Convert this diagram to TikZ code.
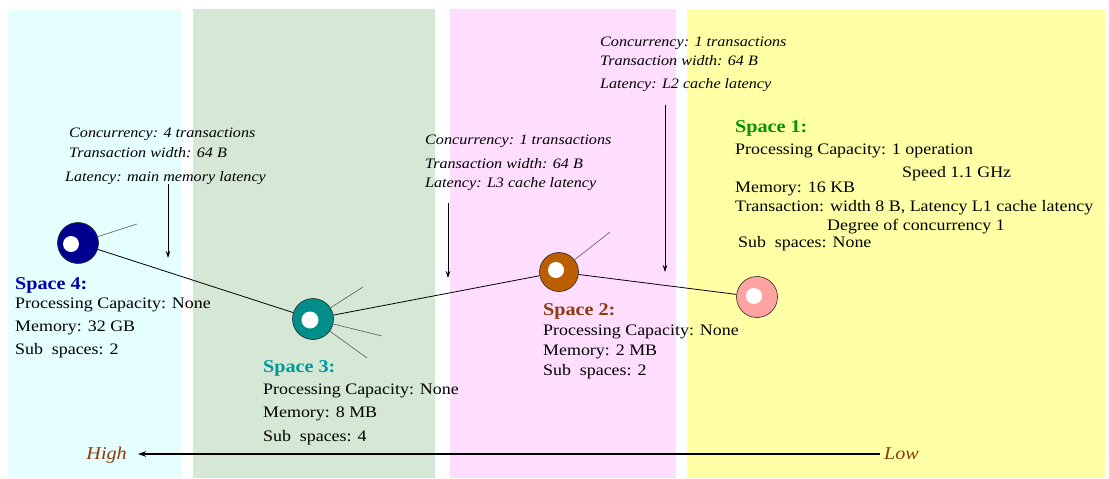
\documentclass[tikz,border=0pt]{standalone}
\usepackage{fontspec}
\setmainfont{Liberation Serif}[FakeStretch=1.12]
\usetikzlibrary{arrows.meta}
\definecolor{bandcyan}{HTML}{E5FFFF}
\definecolor{bandgreen}{HTML}{D5E8D5}
\definecolor{bandpink}{HTML}{FFDDFF}
\definecolor{bandyellow}{HTML}{FFFFA6}
\definecolor{navyball}{HTML}{000090}
\definecolor{tealball}{HTML}{008E8A}
\definecolor{brownball}{HTML}{BA5E00}
\definecolor{pinkball}{HTML}{FFA2A2}
\definecolor{ttlone}{HTML}{009400}
\definecolor{ttltwo}{HTML}{8B3A0E}
\definecolor{ttlthree}{HTML}{00999A}
\definecolor{ttlfour}{HTML}{0000B0}
\definecolor{hilo}{HTML}{8B3A0E}
\newcommand{\subsp}{Sub\hspace{0.55em}spaces}
\begin{document}
\begin{tikzpicture}[x=1pt,y=-1pt,
  txt/.style={anchor=base west, inner sep=0pt, font=\fontsize{16}{18}\selectfont},
  ann/.style={anchor=base west, inner sep=0pt, font=\fontsize{14.4}{16}\selectfont\itshape},
  ttl/.style={anchor=base west, inner sep=0pt, font=\fontsize{18}{20}\selectfont\bfseries},
  ball/.style={circle, draw=black!85, line width=0.6pt, minimum size=41pt, inner sep=0pt},
  hole/.style={circle, fill=white, minimum size=16pt, inner sep=0pt},
  link/.style={line width=0.8pt},
  spoke/.style={line width=0.6pt, black!65},
  down/.style={-{Stealth[length=7pt,width=4.5pt]}, line width=0.7pt}]
\useasboundingbox (0,0) rectangle (1109,479);
% bands
\fill[bandcyan] (8,9) rectangle (181,478);
\fill[bandgreen] (193,9) rectangle (435,478);
\fill[bandpink] (450,9) rectangle (676,478);
\fill[bandyellow] (687,9) rectangle (1105,478);

% balls
\node[ball, fill=navyball] (s4c) at (78,243) {};
\node[hole] (s4h) at (71,244) {};
\node[ball, fill=tealball] (s3c) at (313,319) {};
\node[hole, minimum size=17pt] (s3h) at (310,320) {};
\node[ball, fill=brownball, minimum size=39pt] (s2c) at (559,272) {};
\node[hole] (s2h) at (556,270) {};
\node[ball, fill=pinkball] (s1c) at (757,297) {};
\node[hole] (s1h) at (754,296) {};

% links
\draw[link] (s4c) -- (s3c);
\draw[link] (s3c) -- (s2c);
\draw[link] (s2c) -- (s1c);

% spokes
\coordinate (p4a) at (137,224);
\coordinate (p3a) at (363,287);
\coordinate (p3b) at (382,336);
\coordinate (p3c) at (367,358);
\coordinate (p2a) at (610,232);
\draw[spoke] (s4c) -- (p4a);
\draw[spoke] (s3c) -- (p3a);
\draw[spoke] (s3c) -- (p3b);
\draw[spoke] (s3c) -- (p3c);
\draw[spoke] (s2c) -- (p2a);

% Space 4 text
\node[ttl, text=ttlfour] (s4t) at (15,289) {Space 4:};
\node[txt] (s4a) at (15,308) {Processing Capacity: None};
\node[txt] (s4b) at (15,331) {Memory: 32 GB};
\node[txt] (s4d) at (15,354) {\subsp: 2};

% Space 3 text
\node[ttl, text=ttlthree] (s3t) at (263,372) {Space 3:};
\node[txt] (s3a) at (263,394) {Processing Capacity: None};
\node[txt] (s3b) at (263,417) {Memory: 8 MB};
\node[txt] (s3d) at (263,441) {\subsp: 4};

% Space 2 text
\node[ttl, text=ttltwo] (s2t) at (543,315) {Space 2:};
\node[txt] (s2a) at (543,335) {Processing Capacity: None};
\node[txt] (s2b) at (543,355) {Memory: 2 MB};
\node[txt] (s2d) at (543,375) {\subsp: 2};

% Space 1 text
\node[ttl, text=ttlone] (s1t) at (735,132) {Space 1:};
\node[txt] (s1a) at (735,154) {Processing Capacity: 1 operation};
\node[txt] (s1b) at (902,177) {Speed 1.1 GHz};
\node[txt] (s1m) at (735,192) {Memory: 16 KB};
\node[txt] (s1x) at (735,211) {Transaction: width 8 B, Latency L1 cache latency};
\node[txt] (s1g) at (827,230) {Degree of concurrency 1};
\node[txt] (s1d) at (738,247) {\subsp: None};

% annotations
\node[ann] (a4a) at (69,137) {Concurrency: 4 transactions};
\node[ann] (a4b) at (69,157) {Transaction width: 64 B};
\node[ann] (a4c) at (65,181) {Latency: main memory latency};
\node[ann] (a3a) at (425,144) {Concurrency: 1 transactions};
\node[ann] (a3b) at (425,168) {Transaction width: 64 B};
\node[ann] (a3c) at (425,187) {Latency: L3 cache latency};
\node[ann] (a2a) at (600,46) {Concurrency: 1 transactions};
\node[ann] (a2b) at (600,65) {Transaction width: 64 B};
\node[ann] (a2c) at (600,88) {Latency: L2 cache latency};

% vertical arrows
\coordinate (v4s) at (168,184);
\coordinate (v4e) at (168,258);
\coordinate (v3s) at (448,203);
\coordinate (v3e) at (448,278);
\coordinate (v2s) at (665,105);
\coordinate (v2e) at (665,272);
\draw[down] (v4s) -- (v4e);
\draw[down] (v3s) -- (v3e);
\draw[down] (v2s) -- (v2e);

% High / Low
\node[anchor=base east, inner sep=0pt, text=hilo, font=\fontsize{18}{20}\selectfont\itshape] (high) at (127,459) {High};
\node[anchor=base west, inner sep=0pt, text=hilo, font=\fontsize{18}{20}\selectfont\itshape] (low) at (884,459) {Low};
\coordinate (hr) at (880,454);
\coordinate (hl) at (138,454);
\draw[line width=1.5pt, -{Stealth[length=8pt,width=5.5pt]}] (hr) -- (hl);
\end{tikzpicture}
\end{document}
